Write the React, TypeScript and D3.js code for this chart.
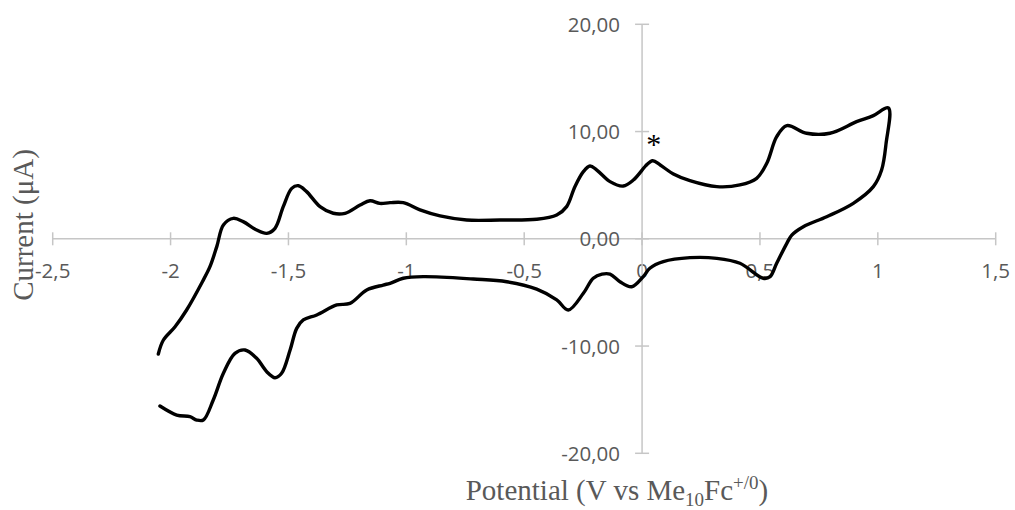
import React from "react";
import * as d3 from "d3";

// Cyclic voltammogram: potential (V vs Me10Fc+/0) and current (µA)
const potential: number[] = [
  -2.052, -2.031, -1.981, -1.932, -1.865, -1.833, -1.804, -1.776, -1.734, -1.692,
  -1.635, -1.592, -1.557, -1.522, -1.486, -1.458, -1.423, -1.366, -1.31, -1.26,
  -1.196, -1.154, -1.112, -1.069, -1.013, -0.942, -0.857, -0.744, -0.603, -0.447,
  -0.362, -0.32, -0.285, -0.249, -0.221, -0.192, -0.136, -0.08, -0.037, 0.0,
  0.015, 0.045, 0.077, 0.133, 0.203, 0.317, 0.415, 0.486, 0.529, 0.571,
  0.614, 0.698, 0.797, 0.91, 0.981, 1.045,
  1.035, 1.016, 0.981, 0.896, 0.783, 0.684, 0.635, 0.614, 0.571, 0.543,
  0.514, 0.415, 0.317, 0.203, 0.09, 0.033, 0.005, -0.044, -0.094, -0.136,
  -0.17, -0.207, -0.249, -0.313, -0.362, -0.447, -0.574, -0.716, -0.928, -1.013,
  -1.069, -1.098, -1.168, -1.239, -1.295, -1.38, -1.437, -1.465, -1.493, -1.529,
  -1.557, -1.592, -1.635, -1.684, -1.727, -1.776, -1.819, -1.861, -1.889, -1.918,
  -1.974, -2.045,
];
const current: number[] = [
  -10.74, -9.46, -8.2, -6.64, -4.0, -2.6, -0.73, 1.29, 1.91, 1.6,
  0.82, 0.51, 0.98, 3.0, 4.7, 4.95, 4.4, 3.0, 2.38, 2.38,
  3.15, 3.55, 3.3, 3.37, 3.37, 2.69, 2.13, 1.75, 1.75, 1.82,
  2.22, 3.0, 4.86, 6.26, 6.79, 6.41, 5.33, 4.92, 5.48, 6.4,
  6.8, 7.28, 6.88, 6.04, 5.42, 4.86, 5.02, 5.64, 7.04, 9.52,
  10.55, 9.84, 9.84, 10.92, 11.48, 12.2,
  8.9, 6.41, 4.86, 3.31, 2.06, 1.13, 0.35, -0.42, -2.28, -3.53,
  -3.68, -2.28, -1.82, -1.76, -2.13, -2.75, -3.53, -4.47, -4.0, -3.3,
  -3.3, -3.68, -5.08, -6.64, -5.7, -4.7, -4.0, -3.75, -3.53, -3.68,
  -4.15, -4.31, -4.77, -6.02, -6.17, -7.1, -7.57, -8.35, -10.37, -12.54,
  -12.95, -12.39, -11.14, -10.37, -10.68, -12.54, -15.03, -16.9, -16.9, -16.59,
  -16.43, -15.59,
];

const xTicks: number[] = [-2.5, -2, -1.5, -1, -0.5, 0, 0.5, 1, 1.5];
const xTickLabels: string[] = ["-2,5", "-2", "-1,5", "-1", "-0,5", "0", "0,5", "1", "1,5"];
const yTicks: number[] = [20, 10, 0, -10, -20];
const yTickLabels: string[] = ["20,00", "10,00", "0,00", "-10,00", "-20,00"];

const W = 1015;
const H = 510;
const AXIS = "#c6c6c6";
const LABEL = "#595959";
const TICK_FONT = "'Open Sans', 'Liberation Sans', sans-serif";
const TITLE_FONT = "'Liberation Serif', 'Times New Roman', serif";

export default function App() {
  const x = d3.scaleLinear().domain([-2.5, 1.5]).range([52.7, 995.7]);
  const y = d3.scaleLinear().domain([-20, 20]).range([453.3, 24.3]);

  const pts: [number, number][] = potential.map((p, i) => [p, current[i]]);
  const line = d3
    .line<[number, number]>()
    .x((d) => x(d[0]))
    .y((d) => y(d[1]))
    .curve(d3.curveCatmullRom.alpha(0.5));

  const x0 = x(0);
  const y0 = y(0);

  return (
    <svg
      width={W}
      height={H}
      style={{ position: "absolute", left: 0, top: 0, background: "#fff" }}
    >
      {/* x axis */}
      <line x1={x(-2.5)} x2={x(1.5)} y1={y0} y2={y0} stroke={AXIS} strokeWidth={1.5} />
      {xTicks.map((t, i) => (
        <g key={"xt" + i}>
          <line x1={x(t)} x2={x(t)} y1={y0 - 6.5} y2={y0 + 6.5} stroke={AXIS} strokeWidth={1.5} />
          <text
            x={x(t)}
            y={y0 + 39}
            textAnchor="middle"
            fontFamily={TICK_FONT}
            fontSize={20.5}
            fill={LABEL}
          >
            {xTickLabels[i]}
          </text>
        </g>
      ))}
      {/* y axis */}
      <line x1={x0} x2={x0} y1={y(20)} y2={y(-20)} stroke={AXIS} strokeWidth={1.5} />
      {yTicks.map((t, i) => (
        <g key={"yt" + i}>
          <line x1={x0 - 7} x2={x0 + 7} y1={y(t)} y2={y(t)} stroke={AXIS} strokeWidth={1.5} />
          <text
            x={x0 - 22}
            y={y(t) + 7.5}
            textAnchor="end"
            fontFamily={TICK_FONT}
            fontSize={20.5}
            fill={LABEL}
          >
            {yTickLabels[i]}
          </text>
        </g>
      ))}
      {/* data */}
      <path d={line(pts) || ""} fill="none" stroke="#000" strokeWidth={3.4} strokeLinejoin="round" strokeLinecap="round" />
      {/* asterisk */}
      <text x={x(0.05)} y={y(7.28) - 7} textAnchor="middle" fontFamily={TITLE_FONT} fontSize={30} fill="#000">
        *
      </text>
      {/* axis titles */}
      <text x={617} y={500} textAnchor="middle" fontFamily={TITLE_FONT} fontSize={29} fill={LABEL}>
        Potential (V vs Me
        <tspan fontSize={19} dy={6}>10</tspan>
        <tspan dy={-6}>Fc</tspan>
        <tspan fontSize={19} dy={-11}>+/0</tspan>
        <tspan dy={11}>)</tspan>
      </text>
      <text
        transform={`translate(33,225) rotate(-90)`}
        textAnchor="middle"
        fontFamily={TITLE_FONT}
        fontSize={29}
        fill={LABEL}
      >
        Current (μA)
      </text>
    </svg>
  );
}
